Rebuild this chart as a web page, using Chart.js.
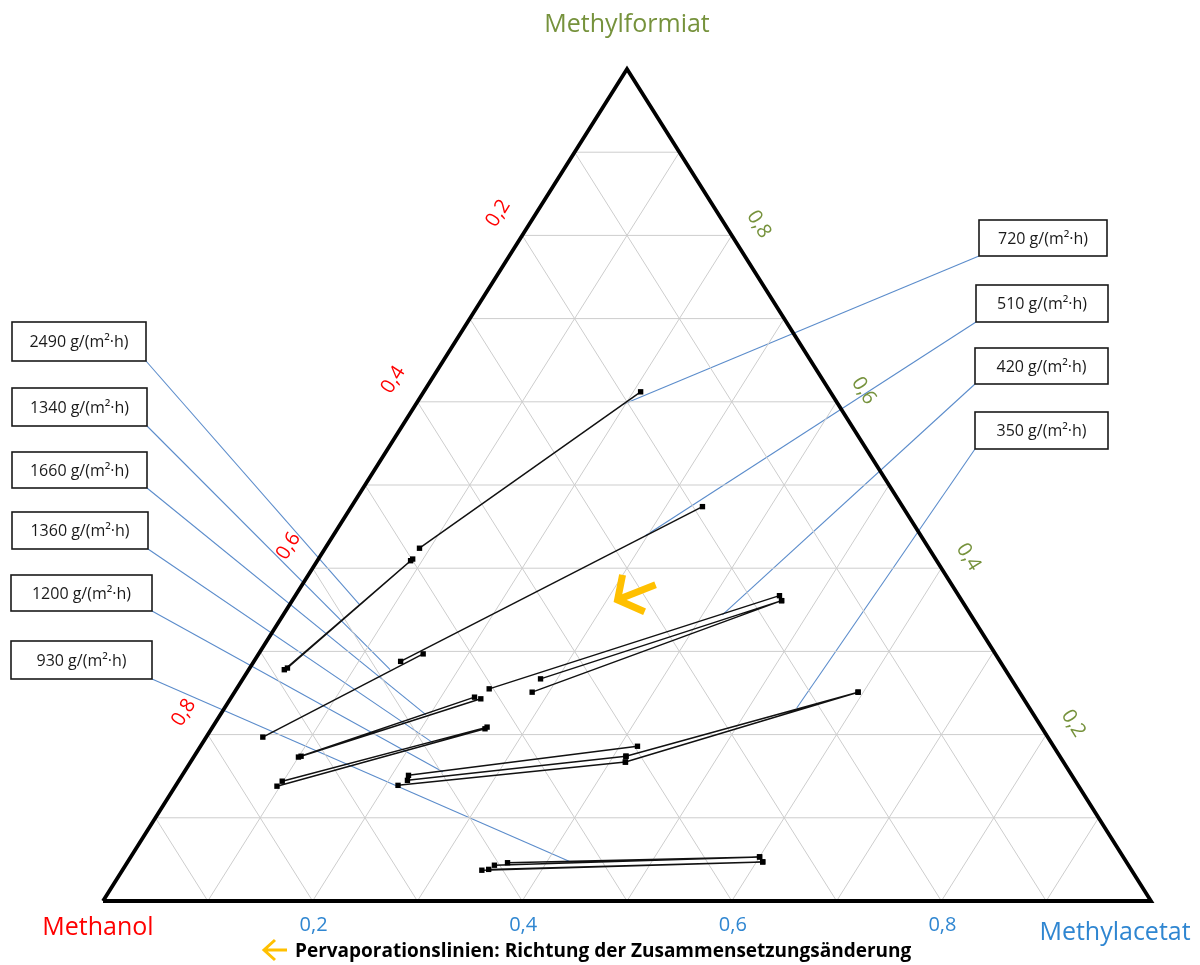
<!DOCTYPE html>
<html lang="de">
<head>
<meta charset="utf-8">
<title>Pervaporationslinien im Dreiecksdiagramm</title>
<script src="https://cdn.jsdelivr.net/npm/chart.js@4.4.1/dist/chart.umd.min.js"></script>
<style>
  html, body { margin: 0; padding: 0; background: #fff; }
  #wrap { position: relative; width: 1200px; height: 965px; }
</style>
</head>
<body>
<div id="wrap"><canvas id="chart"></canvas></div>
<script>
// Corner components: bottom-left, bottom-right, top
const components = ['Methanol', 'Methylacetat', 'Methylformiat'];

// Axis ticks (mole fractions) and their labels
const tickValues = [0.2, 0.4, 0.6, 0.8];
const tickLabels = ['0,2', '0,4', '0,6', '0,8'];

// Grid lines every 0.1
const gridSteps = [0.1, 0.2, 0.3, 0.4, 0.5, 0.6, 0.7, 0.8, 0.9];

// Pervaporation lines, one array per permeate flux.
// Every segment: [[x_MA, x_MF], [x_MA, x_MF]]  (x_MeOH = 1 - x_MA - x_MF)
const seg720  = [[[0.207, 0.612], [0.090, 0.424]]];
const seg510  = [[[0.335, 0.474], [0.140, 0.288]]];
const seg420  = [[[0.462, 0.367], [0.241, 0.255]],
                 [[0.467, 0.361], [0.284, 0.267]],
                 [[0.467, 0.361], [0.284, 0.251]]];
const seg350  = [[[0.595, 0.251], [0.412, 0.174]],
                 [[0.595, 0.251], [0.415, 0.167]]];
const seg2490 = [[[0.090, 0.411], [0.036, 0.280]],
                 [[0.089, 0.409], [0.034, 0.278]]];
const seg1340 = [[[0.157, 0.297], [0.054, 0.197]]];
const seg1660 = [[[0.239, 0.243], [0.102, 0.174]],
                 [[0.232, 0.245], [0.100, 0.173]]];
const seg1360 = [[[0.262, 0.209], [0.099, 0.144]],
                 [[0.261, 0.207], [0.097, 0.138]]];
const seg1200 = [[[0.417, 0.186], [0.216, 0.151]],
                 [[0.412, 0.174], [0.218, 0.145]],
                 [[0.415, 0.167], [0.212, 0.139]]];
const seg930  = [[[0.600, 0.053], [0.363, 0.046]],
                 [[0.600, 0.053], [0.352, 0.043]],
                 [[0.606, 0.047], [0.349, 0.038]],
                 [[0.606, 0.047], [0.343, 0.037]]];

// Flux labels, in the same order as the segment groups
const fluxLabels = ['720 g/(m²·h)', '510 g/(m²·h)', '420 g/(m²·h)', '350 g/(m²·h)',
                    '2490 g/(m²·h)', '1340 g/(m²·h)', '1660 g/(m²·h)', '1360 g/(m²·h)',
                    '1200 g/(m²·h)', '930 g/(m²·h)'];
const fluxGroups = [seg720, seg510, seg420, seg350, seg2490, seg1340, seg1660, seg1360, seg1200, seg930];

// Point on each line where its flux callout points to, [x_MA, x_MF]
const calloutTargets = [[0.198, 0.597], [0.298, 0.439], [0.419, 0.344], [0.546, 0.232],
                        [0.067, 0.356], [0.135, 0.278], [0.196, 0.224], [0.220, 0.190],
                        [0.247, 0.155], [0.425, 0.046]];

// Where the direction arrow sits inside the diagram (tip), [x_MA, x_MF]
const directionArrowTip = [0.310, 0.362];

// ---------------------------------------------------------------------------
// ternary (x_MA, x_MF) -> cartesian chart values
const toXY = (ma, mf) => ({ x: ma + mf / 2, y: mf });
const GAP = { x: null, y: null };

// grid: constant x_MF, constant x_MA, constant x_MeOH
const gridData = [];
gridSteps.forEach(f => {
  gridData.push(toXY(0, f), toXY(1 - f, f), GAP);     // x_MF = f
  gridData.push(toXY(f, 0), toXY(f, 1 - f), GAP);     // x_MA = f
  gridData.push(toXY(1 - f, 0), toXY(0, 1 - f), GAP); // x_MeOH = f
});

const triangleData = [toXY(0, 0), toXY(1, 0), toXY(0, 1), toXY(0, 0)];

const lineDatasets = fluxGroups.map((group, i) => {
  const data = [];
  group.forEach(seg => { data.push(toXY(seg[0][0], seg[0][1]), toXY(seg[1][0], seg[1][1]), GAP); });
  return {
    label: fluxLabels[i],
    data,
    showLine: true,
    spanGaps: false,
    borderColor: '#111',
    borderWidth: 1.5,
    pointStyle: 'rect',
    pointRadius: 3.8,
    pointBorderWidth: 0,
    pointBackgroundColor: '#000',
    clip: false,
    order: 1
  };
});

// Callout boxes (pixel layout), side says which corner the leader starts from
const calloutBoxes = [
  { x: 979, y: 220, w: 128, h: 36, side: 'right' },
  { x: 976, y: 285, w: 132, h: 37, side: 'right' },
  { x: 975, y: 348, w: 133, h: 36, side: 'right' },
  { x: 975, y: 412, w: 133, h: 37, side: 'right' },
  { x: 12,  y: 322, w: 134, h: 39, side: 'left' },
  { x: 12,  y: 388, w: 135, h: 38, side: 'left' },
  { x: 12,  y: 452, w: 135, h: 36, side: 'left' },
  { x: 12,  y: 512, w: 136, h: 37, side: 'left' },
  { x: 11,  y: 575, w: 141, h: 36, side: 'left' },
  { x: 11,  y: 641, w: 141, h: 38, side: 'left' }
];

const FONT = '"Open Sans", "Noto Sans", sans-serif';
const RED = '#FF0000', GREEN = '#76923C', BLUE = '#2F86D1', AMBER = '#FFC000';

function pix(chart, ma, mf) {
  const p = toXY(ma, mf);
  return { x: chart.scales.x.getPixelForValue(p.x), y: chart.scales.y.getPixelForValue(p.y) };
}

const ternaryDecor = {
  id: 'ternaryDecor',
  beforeDatasetsDraw(chart) {
    // leader lines from callout boxes to the pervaporation lines
    const ctx = chart.ctx;
    ctx.save();
    ctx.strokeStyle = '#5B8CCB';
    ctx.lineWidth = 1.1;
    calloutBoxes.forEach((b, i) => {
      const ax = b.side === 'right' ? b.x : b.x + b.w;
      const ay = b.y + b.h;
      const t = pix(chart, calloutTargets[i][0], calloutTargets[i][1]);
      ctx.beginPath();
      ctx.moveTo(ax, ay);
      ctx.lineTo(t.x, t.y);
      ctx.stroke();
    });
    ctx.restore();
  },
  afterDraw(chart) {
    const ctx = chart.ctx;
    ctx.save();

    // corner titles
    ctx.textBaseline = 'alphabetic';
    ctx.textAlign = 'center';
    ctx.font = '25px ' + FONT;
    const top = pix(chart, 0, 1), bl = pix(chart, 0, 0), br = pix(chart, 1, 0);
    ctx.fillStyle = GREEN;
    ctx.fillText(components[2], top.x, 32);
    ctx.fillStyle = RED;
    ctx.fillText(components[0], bl.x - 5, 935);
    ctx.fillStyle = BLUE;
    ctx.fillText(components[1], br.x - 36, 940);

    // bottom ticks (Methylacetat)
    ctx.font = '20px ' + FONT;
    ctx.fillStyle = BLUE;
    tickValues.forEach((v, i) => {
      const p = pix(chart, v, 0);
      ctx.fillText(tickLabels[i], p.x + 1, p.y + 30);
    });

    // left ticks (Methanol), rotated along the left edge
    const angL = Math.atan2(top.y - bl.y, top.x - bl.x);
    ctx.textBaseline = 'middle';
    ctx.fillStyle = RED;
    tickValues.forEach((v, i) => {
      const p = pix(chart, 0, 1 - v);
      ctx.save();
      ctx.translate(p.x - 24, p.y - 22);
      ctx.rotate(angL);
      ctx.fillText(tickLabels[i], 0, 0);
      ctx.restore();
    });

    // right ticks (Methylformiat), rotated along the right edge
    const angR = Math.atan2(br.y - top.y, br.x - top.x);
    ctx.fillStyle = GREEN;
    tickValues.forEach((v, i) => {
      const p = pix(chart, 1 - v, v);
      ctx.save();
      ctx.translate(p.x + 27, p.y - 11);
      ctx.rotate(angR);
      ctx.fillText(tickLabels[i], 0, 0);
      ctx.restore();
    });

    // callout boxes
    ctx.font = '16px ' + FONT;
    ctx.textAlign = 'center';
    ctx.textBaseline = 'middle';
    calloutBoxes.forEach((b, i) => {
      ctx.fillStyle = '#fff';
      ctx.fillRect(b.x, b.y, b.w, b.h);
      ctx.strokeStyle = '#1a1a1a';
      ctx.lineWidth = 1.6;
      ctx.strokeRect(b.x, b.y, b.w, b.h);
      ctx.fillStyle = '#1a1a1a';
      ctx.fillText(fluxLabels[i], b.x + b.w / 2, b.y + b.h / 2 + 1);
    });

    // direction arrow inside the diagram
    const tip = pix(chart, directionArrowTip[0], directionArrowTip[1]);
    ctx.strokeStyle = AMBER;
    ctx.lineWidth = 7;
    ctx.lineCap = 'butt';
    ctx.lineJoin = 'miter';
    ctx.beginPath();
    ctx.moveTo(tip.x + 38, tip.y - 15);
    ctx.lineTo(tip.x, tip.y);
    ctx.stroke();
    ctx.beginPath();
    ctx.moveTo(tip.x + 5, tip.y - 25);
    ctx.lineTo(tip.x, tip.y);
    ctx.lineTo(tip.x + 27, tip.y + 12);
    ctx.stroke();

    // legend line at the bottom
    ctx.lineWidth = 3;
    ctx.beginPath();
    ctx.moveTo(287, 950);
    ctx.lineTo(264, 950);
    ctx.moveTo(275, 940);
    ctx.lineTo(264, 950);
    ctx.lineTo(275, 960);
    ctx.stroke();
    ctx.font = 'bold 19px ' + FONT;
    ctx.textAlign = 'left';
    ctx.textBaseline = 'alphabetic';
    ctx.fillStyle = '#000';
    ctx.fillText('Pervaporationslinien: Richtung der Zusammensetzungsänderung', 295, 957);

    ctx.restore();
  }
};

new Chart(document.getElementById('chart'), {
  type: 'scatter',
  data: {
    datasets: [
      ...lineDatasets,
      {
        label: 'Dreieck',
        data: triangleData,
        showLine: true,
        borderColor: '#000',
        borderWidth: 3.8,
        borderJoinStyle: 'miter',
        pointRadius: 0,
        clip: false,
        order: 2
      },
      {
        label: 'Gitter',
        data: gridData,
        showLine: true,
        spanGaps: false,
        borderColor: '#CDCDCD',
        borderWidth: 1,
        pointRadius: 0,
        clip: false,
        order: 3
      }
    ]
  },
  options: {
    responsive: true,
    maintainAspectRatio: false,
    devicePixelRatio: 1,
    animation: false,
    events: [],
    layout: { padding: { left: 103, right: 49, top: 69, bottom: 64 } },
    scales: {
      x: { type: 'linear', min: 0, max: 1, display: false },
      y: { type: 'linear', min: 0, max: 1, display: false }
    },
    plugins: {
      legend: { display: false },
      tooltip: { enabled: false }
    }
  },
  plugins: [ternaryDecor]
});
</script>
</body>
</html>
